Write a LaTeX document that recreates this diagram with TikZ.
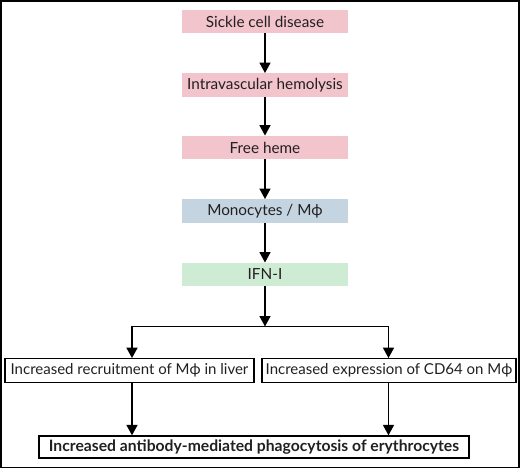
\documentclass[tikz,border=0pt]{standalone}
\usepackage{fontspec}
\setmainfont{Lato}
\usetikzlibrary{arrows.meta}
\definecolor{pinkbox}{RGB}{242,196,204}
\definecolor{bluebox}{RGB}{197,212,225}
\definecolor{greenbox}{RGB}{206,236,212}
\definecolor{txt}{RGB}{35,31,32}
\newcommand{\mphi}{M\symbol{"03D5}}
\begin{document}
\begin{tikzpicture}[x=1pt,y=-1pt,
  fillbox/.style={minimum width=166pt,minimum height=23.5pt,inner sep=0pt,text=txt,font=\fontsize{15.3}{17}\selectfont},
  linebox/.style={draw=black,line width=1.3pt,minimum height=23.5pt,inner sep=0pt,text=txt,font=\fontsize{15}{17}\selectfont},
  arr/.style={line width=1.6pt,-{Triangle[length=10.5pt,width=11pt]}},
  ln/.style={line width=1.6pt}]
\useasboundingbox (0,0) rectangle (520,469);
\draw[line width=1.5pt] (1,1) rectangle (519,467.5);
\node[fillbox,fill=pinkbox] (b1) at (265,21.5) {Sickle cell disease};
\node[fillbox,fill=pinkbox] (b2) at (265,85) {Intravascular hemolysis};
\node[fillbox,fill=pinkbox] (b3) at (265,147.5) {Free heme};
\node[fillbox,fill=bluebox] (b4) at (265,211) {Monocytes / \mphi};
\node[fillbox,fill=greenbox] (b5) at (265,274.5) {IFN-I};
\node[linebox,minimum width=249pt] (l) at (129.5,370.5) {Increased recruitment of \mphi{} in liver};
\node[linebox,minimum width=254pt] (r) at (389,370.5) {Increased expression of CD64 on \mphi};
\node[linebox,minimum width=430pt,minimum height=22pt,font=\fontsize{15.7}{17}\selectfont\bfseries] (f) at (254,447) {Increased antibody-mediated phagocytosis of erythrocytes};
\coordinate (s) at (265,326.5);
\coordinate (jl) at (132,326.5);
\coordinate (jr) at (388.5,326.5);
\draw[arr] (b1) -- (b2);
\draw[arr] (b2) -- (b3);
\draw[arr] (b3) -- (b4);
\draw[arr] (b4) -- (b5);
\draw[arr] (b5) -- (s);
\draw[ln,line cap=rect] (jl) -- (jr);
\draw[arr] (jl) -- (jl |- l.north);
\draw[arr] (jr) -- (jr |- r.north);
\draw[arr] (jl |- l.south) -- (jl |- f.north);
\draw[arr] (jr |- r.south) -- (jr |- f.north);
\end{tikzpicture}
\end{document}
